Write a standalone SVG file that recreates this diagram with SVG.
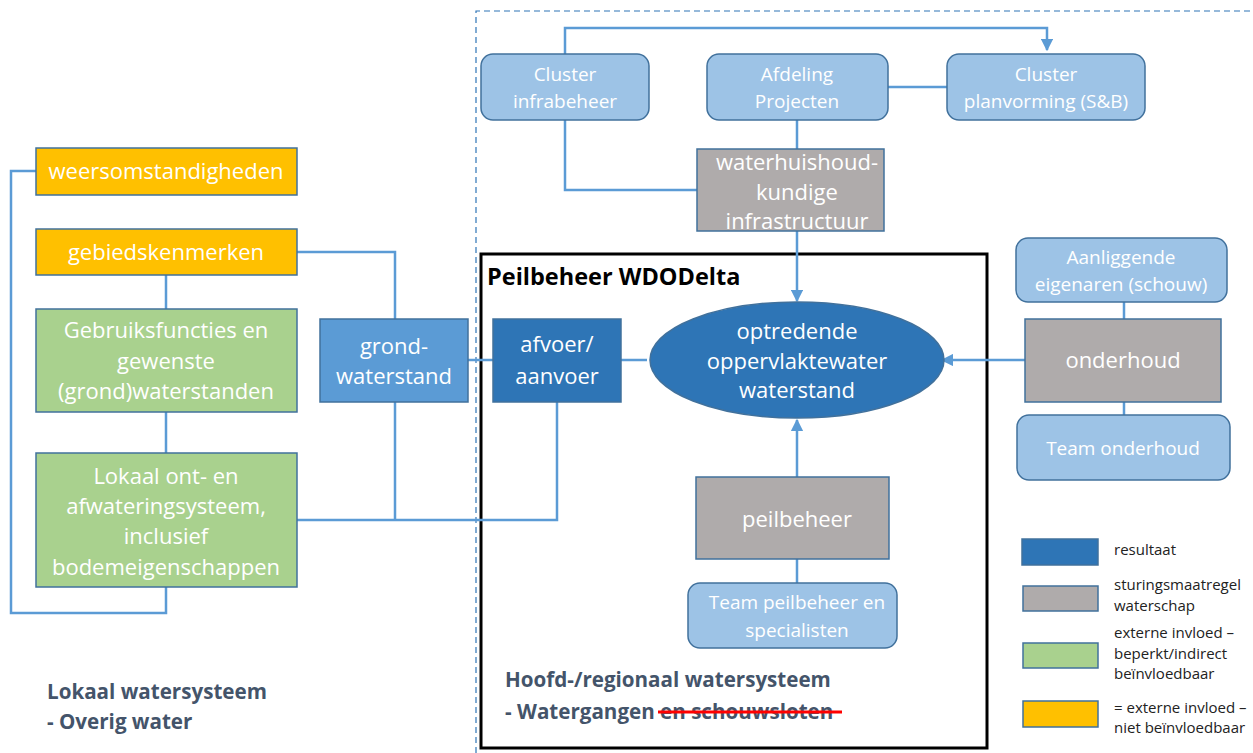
<svg xmlns="http://www.w3.org/2000/svg" width="1253" height="753" viewBox="0 0 1253 753">
<defs>
<marker id="ah" viewBox="0 0 10 10" refX="9" refY="5" markerWidth="5" markerHeight="5" orient="auto"><path d="M0,0 L10,5 L0,10 z" fill="#5B9BD5"/></marker>
<style>
.t{font-family:"Open Sans","Noto Sans",sans-serif;fill:#fff;text-anchor:middle}
.b{font-size:22px}
.s{font-size:19px}
.yel{fill:#FFC000;stroke:#41719C;stroke-width:1.5}
.grn{fill:#A9D18E;stroke:#41719C;stroke-width:1.5}
.mid{fill:#5B9BD5;stroke:#41719C;stroke-width:1.5}
.dark{fill:#2E75B6;stroke:#41719C;stroke-width:1.5}
.gry{fill:#AFABAB;stroke:#41719C;stroke-width:1.5}
.lt{fill:#9DC3E6;stroke:#41719C;stroke-width:1.5}
.c{fill:none;stroke:#5B9BD5;stroke-width:2.5}
.lg{font-family:"Open Sans","Noto Sans",sans-serif;font-size:15px;fill:#222}
.hd{font-family:"Open Sans","Noto Sans",sans-serif;font-weight:bold;font-size:20.6px;fill:#44546A}
</style>
</defs>
<rect width="1253" height="753" fill="#fff"/>
<path d="M476,753 V11 H1253" fill="none" stroke="#2E75B6" stroke-width="1.2" stroke-dasharray="6,4"/>
<rect id="frame" x="481" y="254" width="506" height="494" fill="none" stroke="#000" stroke-width="3"/>
<text x="487" y="285" font-family="Open Sans, Noto Sans, sans-serif" font-weight="bold" font-size="23.5" fill="#000">Peilbeheer WDODelta</text>

<g id="connectors">
<path class="c" d="M565,54 V28 H1047 V50" marker-end="url(#ah)"/>
<path class="c" d="M888,87 H947"/>
<path class="c" d="M565,120 V190 H697"/>
<path class="c" d="M797,120 V149"/>
<path class="c" d="M797,231 V301" marker-end="url(#ah)"/>
<path class="c" d="M797,477 V420" marker-end="url(#ah)"/>
<path class="c" d="M797,559 V583"/>
<path class="c" d="M621,360 H647"/>
<path class="c" d="M468,360 H493"/>
<path class="c" d="M557,402 V520 H297"/>
<path class="c" d="M395,402 V520"/>
<path class="c" d="M297,252 H395 V319"/>
<path class="c" d="M166,275 V309"/>
<path class="c" d="M166,412 V453"/>
<path class="c" d="M36,171 H11 V613 H166 V587"/>
<path class="c" d="M1025,360 H942" marker-end="url(#ah)"/>
<path class="c" d="M1124,302 V319"/>
<path class="c" d="M1124,402 V415"/>
</g>

<g id="weersomstandigheden"><rect class="yel" x="36" y="148" width="261" height="47"/><text class="t b" x="166" y="179">weersomstandigheden</text></g>
<g id="gebiedskenmerken"><rect class="yel" x="36" y="229" width="261" height="46"/><text class="t b" x="166" y="260">gebiedskenmerken</text></g>
<g id="gebruiksfuncties"><rect class="grn" x="36" y="309" width="261" height="103"/><text class="t b" x="166" y="338">Gebruiksfuncties en</text><text class="t b" x="166" y="369">gewenste</text><text class="t b" x="166" y="399">(grond)waterstanden</text></g>
<g id="lokaal"><rect class="grn" x="36" y="453" width="261" height="134"/><text class="t b" x="166" y="484">Lokaal ont- en</text><text class="t b" x="166" y="514">afwateringsysteem,</text><text class="t b" x="166" y="544">inclusief</text><text class="t b" x="166" y="575">bodemeigenschappen</text></g>
<g id="grondwaterstand"><rect class="mid" x="320" y="319" width="148" height="83"/><text class="t b" x="394" y="354">grond-</text><text class="t b" x="394" y="384">waterstand</text></g>
<g id="afvoer"><rect class="dark" x="493" y="319" width="128" height="83"/><text class="t b" x="557" y="352">afvoer/</text><text class="t b" x="557" y="384">aanvoer</text></g>
<g id="waterstand"><ellipse class="dark" cx="797" cy="360" rx="147" ry="58"/><text class="t b" x="797" y="339">optredende</text><text class="t b" x="797" y="369">oppervlaktewater</text><text class="t b" x="797" y="398">waterstand</text></g>
<g id="peilbeheer"><rect class="gry" x="696" y="477" width="193" height="82"/><text class="t b" x="797" y="527">peilbeheer</text></g>
<g id="team-peilbeheer"><rect class="lt" x="688" y="583" width="209" height="65" rx="12"/><text class="t s" x="797" y="609">Team peilbeheer en</text><text class="t s" x="797" y="637">specialisten</text></g>
<g id="cluster-infrabeheer"><rect class="lt" x="481" y="54" width="168" height="66" rx="12"/><text class="t s" x="565" y="81">Cluster</text><text class="t s" x="565" y="108">infrabeheer</text></g>
<g id="afdeling-projecten"><rect class="lt" x="707" y="54" width="181" height="66" rx="12"/><text class="t s" x="797" y="81">Afdeling</text><text class="t s" x="797" y="108">Projecten</text></g>
<g id="cluster-planvorming"><rect class="lt" x="947" y="54" width="198" height="66" rx="12"/><text class="t s" x="1046" y="81">Cluster</text><text class="t s" x="1046" y="108">planvorming (S&amp;B)</text></g>
<g id="infrastructuur"><rect class="gry" x="697" y="149" width="187" height="82"/><text class="t b" x="797" y="170">waterhuishoud-</text><text class="t b" x="797" y="200">kundige</text><text class="t b" x="797" y="229">infrastructuur</text></g>
<g id="aanliggende"><rect class="lt" x="1016" y="238" width="211" height="64" rx="12"/><text class="t s" x="1121" y="264">Aanliggende</text><text class="t s" x="1121" y="291">eigenaren (schouw)</text></g>
<g id="onderhoud"><rect class="gry" x="1025" y="319" width="196" height="83"/><text class="t b" x="1123" y="368">onderhoud</text></g>
<g id="team-onderhoud"><rect class="lt" x="1017" y="415" width="213" height="65" rx="12"/><text class="t s" x="1123" y="455">Team onderhoud</text></g>

<g id="legend">
<rect class="dark" x="1022" y="539" width="76" height="26"/><text class="lg" x="1114" y="555">resultaat</text>
<rect class="gry" x="1023" y="586" width="75" height="25"/><text class="lg" x="1114" y="590">sturingsmaatregel</text><text class="lg" x="1114" y="611">waterschap</text>
<rect class="grn" x="1023" y="643" width="75" height="25"/><text class="lg" x="1114" y="638">externe invloed –</text><text class="lg" x="1114" y="659">beperkt/indirect</text><text class="lg" x="1114" y="679">beïnvloedbaar</text>
<rect class="yel" x="1023" y="701" width="75" height="26"/><text class="lg" x="1114" y="713">= externe invloed –</text><text class="lg" x="1114" y="733">niet beïnvloedbaar</text>
</g>

<g id="labels">
<text class="hd" x="47" y="699">Lokaal watersysteem</text>
<text class="hd" x="47" y="729">- Overig water</text>
<text class="hd" x="505" y="687">Hoofd-/regionaal watersysteem</text>
<text class="hd" x="505" y="719">- Watergangen en schouwsloten</text>
<line x1="658" y1="712" x2="842" y2="712" stroke="#FF0000" stroke-width="3"/>
</g>
</svg>
